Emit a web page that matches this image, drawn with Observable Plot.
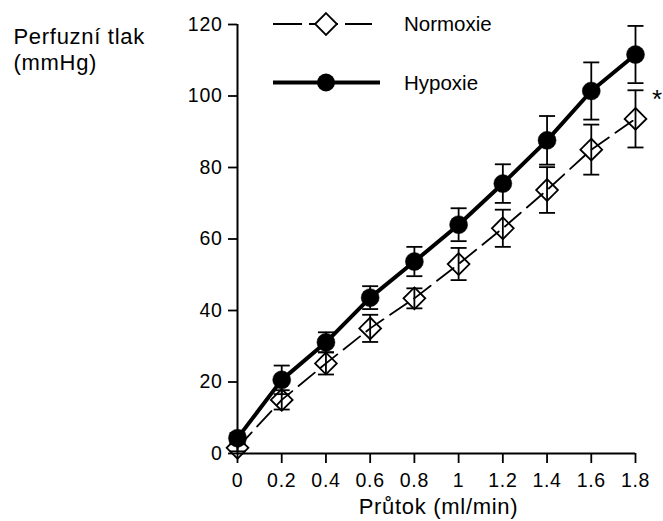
<!DOCTYPE html>
<html><head><meta charset="utf-8">
<script src="https://cdn.jsdelivr.net/npm/d3@7"></script>
<script src="https://cdn.jsdelivr.net/npm/@observablehq/plot@0.6"></script>
<style>
html,body{margin:0;padding:0;background:#fff;overflow:hidden}
#chart{position:relative;width:663px;height:521px}
</style></head><body><div id="chart"></div>
<script>
// ---- data ----
const flow = [0, 0.2, 0.4, 0.6, 0.8, 1.0, 1.2, 1.4, 1.6, 1.8];
const normoxie    = [1.6, 15.0, 25.2, 35.0, 43.4, 53.0, 63.0, 73.7, 85.0, 93.6];
const normoxieSEM = [1.0, 2.7, 3.1, 3.8, 2.8, 4.5, 5.2, 6.4, 7.0, 8.0];
const hypoxie     = [4.3, 20.6, 31.1, 43.6, 53.7, 64.0, 75.5, 87.6, 101.4, 111.6];
const hypoxieSEM  = [1.4, 4.0, 2.8, 3.2, 4.1, 4.6, 5.4, 6.8, 8.0, 8.0];
const seriesNames = ["Normoxie", "Hypoxie"];
const xTicks = [0, 0.2, 0.4, 0.6, 0.8, 1.0, 1.2, 1.4, 1.6, 1.8];
const xTickLabels = ["0", "0.2", "0.4", "0.6", "0.8", "1", "1.2", "1.4", "1.6", "1.8"];
const yTicks = [0, 20, 40, 60, 80, 100, 120];
const xLabel = "Průtok (ml/min)";
const yLabel = "Perfuzní tlak\n(mmHg)";
const sigX = [1.8];
const sigY = [101.6];
const sigText = ["*"];

// ---- tables ----
const normRows = flow.map((x, i) => ({x, y: normoxie[i], e: normoxieSEM[i], s: seriesNames[0]}));
const hypRows  = flow.map((x, i) => ({x, y: hypoxie[i],  e: hypoxieSEM[i],  s: seriesNames[1]}));
const allRows = normRows.concat(hypRows);
const sigRows = sigX.map((x, i) => ({x, y: sigY[i], t: sigText[i]}));

const cap = {draw(ctx, size) { const w = Math.sqrt(size / Math.PI); ctx.moveTo(-w, 0); ctx.lineTo(w, 0); }};
const FONT = "'Liberation Sans', Arial, Helvetica, sans-serif";

const plot = Plot.plot({
  width: 663, height: 521,
  marginLeft: 237, marginRight: 28, marginTop: 24, marginBottom: 68,
  style: {fontFamily: FONT, fontSize: "19.5px", color: "black", background: "white"},
  x: {domain: [0, 1.8]},
  y: {domain: [0, 120]},
  marks: [
    Plot.ruleX([0], {stroke: "black", strokeWidth: 2}),
    Plot.ruleY([0], {stroke: "black", strokeWidth: 2}),
    Plot.axisY({ticks: yTicks, tickSize: 9, tickPadding: 6, fontSize: 19.5, strokeWidth: 1.8, label: null}),
    Plot.axisX({ticks: xTicks, tickFormat: d => xTickLabels[xTicks.indexOf(d)], tickSize: 10, tickPadding: 10, fontSize: 19.5, strokeWidth: 1.8, label: null}),
    Plot.ruleX(allRows, {x: "x", y1: d => d.y - d.e, y2: d => d.y + d.e, stroke: "black", strokeWidth: 1.8}),
    Plot.dot(allRows, {x: "x", y: d => d.y + d.e, symbol: cap, r: 8, stroke: "black", fill: "none", strokeWidth: 1.8}),
    Plot.dot(allRows, {x: "x", y: d => d.y - d.e, symbol: cap, r: 8, stroke: "black", fill: "none", strokeWidth: 1.8}),
    Plot.line(normRows, {x: "x", y: "y", stroke: "black", strokeWidth: 1.8, strokeDasharray: "21,8"}),
    Plot.line(hypRows, {x: "x", y: "y", stroke: "black", strokeWidth: 4}),
    Plot.dot(normRows, {x: "x", y: "y", symbol: "diamond2", r: 9.8, stroke: "black", fill: "none", strokeWidth: 1.8}),
    Plot.dot(hypRows, {x: "x", y: "y", r: 9, fill: "black", stroke: "black", strokeWidth: 0.5}),
    Plot.text(sigRows, {x: "x", y: "y", text: "t", dx: 22, dy: 9, fontSize: 26, fill: "black"}),
    Plot.text([xLabel], {frameAnchor: "bottom", lineAnchor: "top", dy: 45, dx: 2, fontSize: 22, fill: "black"}),
    Plot.text([yLabel], {frameAnchor: "top-left", textAnchor: "start", lineAnchor: "top", dx: -224, dy: 1, fontSize: 22, lineHeight: 1.18, fill: "black"})
  ]
});
document.getElementById("chart").appendChild(plot);

// letter spacing to mimic the slightly wide original lettering
d3.select(plot).selectAll("text").style("letter-spacing", "0.7px");

// ---- legend ----
const legendRows = [
  {name: seriesNames[0], y: 24, dash: "29,7", width: 1.8, marker: "diamond"},
  {name: seriesNames[1], y: 82.5, dash: null, width: 4, marker: "circle"}
];
const lg = d3.select(plot).append("g").attr("font-family", FONT).attr("font-size", 20.5).attr("text-anchor", "start");
legendRows.forEach(r => {
  const g = lg.append("g");
  g.append("line").attr("x1", 273).attr("x2", r.marker === "diamond" ? 372 : 380)
    .attr("y1", r.y).attr("y2", r.y).attr("stroke", "black").attr("stroke-width", r.width)
    .attr("stroke-dasharray", r.dash);
  if (r.marker === "diamond") {
    g.append("path").attr("transform", `translate(326,${r.y})`)
      .attr("d", d3.symbol(d3.symbolDiamond2, Math.PI * 9.8 * 9.8)())
      .attr("fill", "white").attr("stroke", "black").attr("stroke-width", 1.8);
  } else {
    g.append("circle").attr("cx", 326).attr("cy", r.y).attr("r", 9).attr("fill", "black");
  }
  g.append("text").attr("x", 404).attr("y", r.y).attr("dy", "0.35em")
    .attr("text-anchor", "start").attr("fill", "black").text(r.name);
});
</script></body></html>
